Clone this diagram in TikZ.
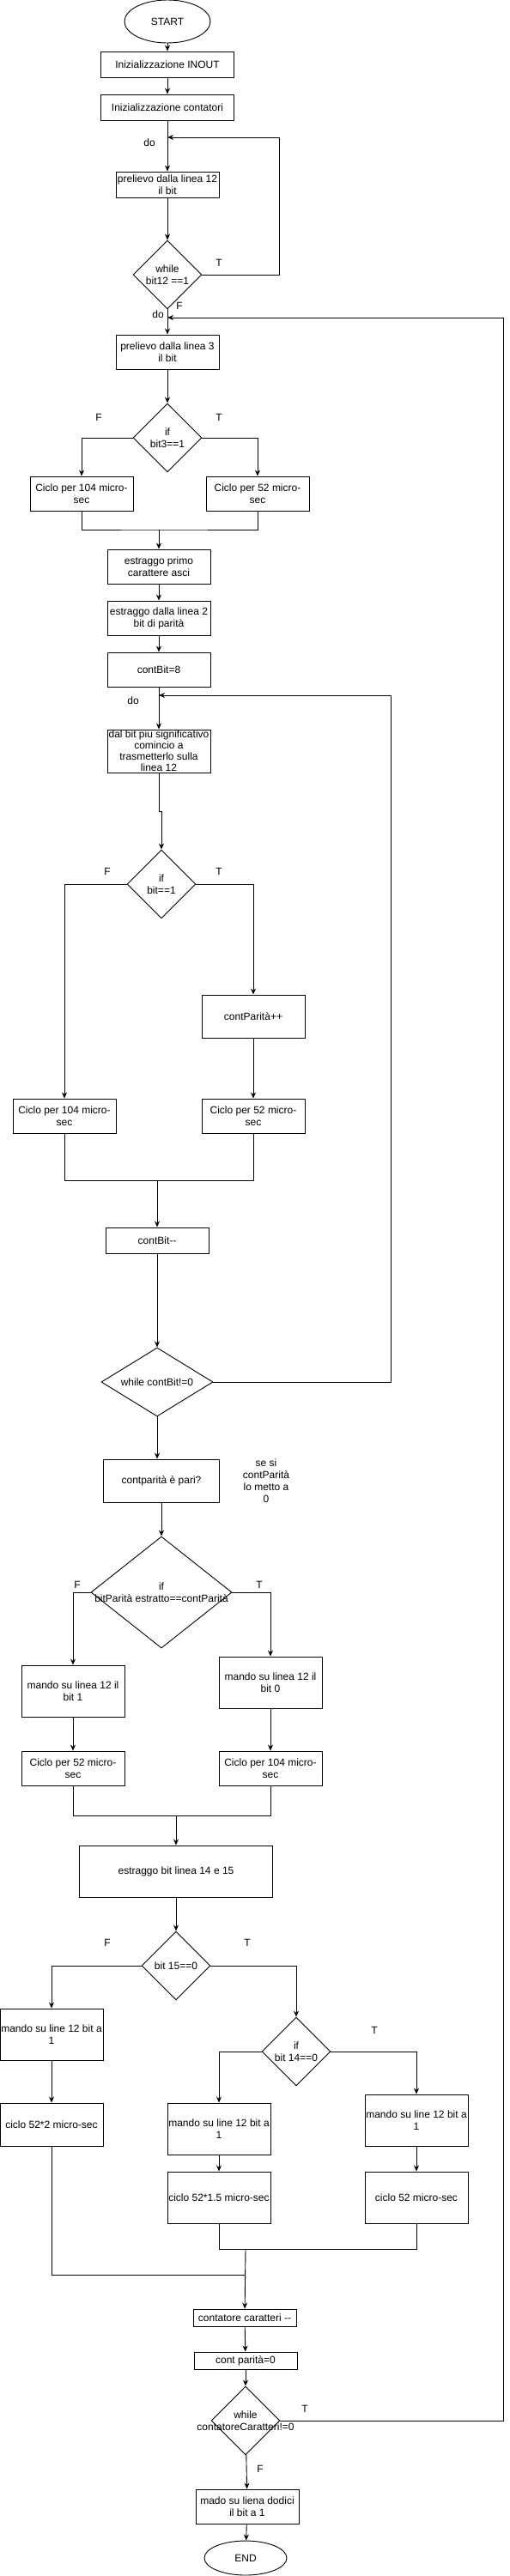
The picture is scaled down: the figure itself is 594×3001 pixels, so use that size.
\documentclass[tikz,border=0pt]{standalone}
\usepackage{fontspec}
\setmainfont{Liberation Sans}
\usetikzlibrary{shapes.geometric, arrows.meta}

\begin{document}
\begin{tikzpicture}[x=1pt, y=-1pt, line width=0.9pt,
    font=\fontsize{12}{14}\selectfont,
    box/.style={draw, rectangle, align=center, inner sep=0pt, minimum width=120pt, minimum height=40pt},
    cond/.style={draw, diamond, inner sep=0pt, minimum width=80pt, minimum height=80pt,
        label={[align=center]center:#1}},
    term/.style={draw, ellipse, inner sep=0pt, minimum width=100pt, minimum height=50pt},
    lab/.style={inner sep=1pt},
    arr/.style={-{Stealth[length=7pt, width=6pt]}}]
    \useasboundingbox (0,0) rectangle (594,3001);

    % first part: wait for the start bit on line 12
    \node[term] (start) at (195,25) {START};
    \node[box, minimum width=155pt, minimum height=30pt] (inout) at (195,75) {Inizializzazione INOUT};
    \node[box, minimum width=155pt, minimum height=30pt] (cont) at (195,125) {Inizializzazione contatori};
    \coordinate (j1) at (195,160);
    \node[box, minimum height=30pt] (p12) at (195,215) {prelievo dalla linea 12\\il bit};
    \node[cond={while\\bit12 ==1}] (w12) at (195,320) {};
    \coordinate (j2) at (195,370);
    \node[box] (p3) at (195,410) {prelievo dalla linea 3\\il bit};
    \node[cond={if\\bit3==1}] (if3) at (195,510) {};
    \node[box] (c104a) at (95,575) {Ciclo per 104 micro-\\sec};
    \node[box] (c52a) at (300,575) {Ciclo per 52 micro-\\sec};
    \coordinate (jm1) at (185,617);
    \node[box] (asci) at (185,660) {estraggo primo\\carattere asci};
    \node[box] (par) at (185,720) {estraggo dalla linea 2\\bit di parità};
    \node[box] (cb8) at (185,780) {contBit=8};
    \coordinate (j3) at (185,810);

    % loop over the 8 bits of the character
    \node[box, minimum height=50pt, font=\fontsize{12}{13}\selectfont] (msb) at (185,875)
        {dal bit piu significativo\\comincio a\\trasmetterlo sulla\\linea 12};
    \node[cond={if\\bit==1}] (ifb) at (188,1030) {};
    \node[box, minimum height=50pt] (cpp) at (295,1184) {contParità++};
    \node[box] (c104b) at (75,1300) {Ciclo per 104 micro-\\sec};
    \node[box] (c52b) at (295,1300) {Ciclo per 52 micro-\\sec};
    \coordinate (jm2) at (183,1375);
    \node[box, minimum height=30pt] (cbm) at (183,1445) {contBit{-}{-}};
    \node[cond={while contBit!=0}, minimum width=130pt] (wcb) at (183,1610) {};

    % parity bit
    \node[box, minimum width=135pt, minimum height=50pt] (pari) at (188,1725) {contparità è pari?};
    \node[align=center] (nota) at (310,1725) {se si\\contParità\\lo metto a\\0};
    \node[cond={if\\bitParità estratto==contParità}, minimum width=164pt, minimum height=130pt] (ifp) at (188,1855) {};
    \node[box, minimum height=60pt] (m1) at (85,1970) {mando su linea 12 il\\bit 1};
    \node[box, minimum height=60pt] (m0) at (315,1960) {mando su linea 12 il\\bit 0};
    \node[box] (c52c) at (85,2060) {Ciclo per 52 micro-\\sec};
    \node[box] (c104c) at (315,2060) {Ciclo per 104 micro-\\sec};
    \coordinate (jm3) at (205,2115);

    % stop bits from lines 14 and 15
    \node[box, minimum width=225pt, minimum height=60pt] (ex) at (205,2180) {estraggo bit linea 14 e 15};
    \node[cond={bit 15==0}] (if15) at (205,2290) {};
    \node[box, minimum height=60pt] (ml) at (60,2370) {mando su line 12 bit a\\1};
    \node[box, minimum height=50pt] (c522) at (60,2475) {ciclo 52*2 micro-sec};
    \node[cond={if\\bit 14==0}] (if14) at (345,2390) {};
    \node[box, minimum height=60pt] (mm) at (255,2480) {mando su line 12 bit a\\1};
    \node[box, minimum height=60pt] (mr) at (485,2470) {mando su line 12 bit a\\1};
    \node[box, minimum height=60pt] (c15) at (255,2560) {ciclo 52*1.5 micro-sec};
    \node[box, minimum height=60pt] (c52d) at (485,2560) {ciclo 52 micro-sec};
    \coordinate (jm4) at (286,2620);
    \coordinate (jm5) at (286,2650);

    % next character
    \node[box, minimum height=20pt] (ccar) at (285,2700) {contatore caratteri {-}{-}};
    \node[box, minimum height=20pt] (cpar0) at (286,2750) {cont parità=0};
    \node[cond={while\\contatoreCaratteri!=0}] (wcc) at (286,2820) {};
    \node[box] (mado) at (288,2920) {mado su liena dodici\\il bit a 1};
    \node[term, minimum width=96pt, minimum height=40pt] (stop) at (286,2980) {END};

    % T / F / do labels
    \node[lab] (do1) at (174,166) {do};
    \node[lab] (t1) at (255,306) {T};
    \node[lab] (f1) at (209,356) {F};
    \node[lab] (do2) at (184,366) {do};
    \node[lab] (f2) at (115,486) {F};
    \node[lab] (t2) at (255,486) {T};
    \node[lab] (do3) at (155,816) {do};
    \node[lab] (f3) at (125,1015) {F};
    \node[lab] (t3) at (255,1015) {T};
    \node[lab] (f4) at (90,1846) {F};
    \node[lab] (t4) at (302,1846) {T};
    \node[lab] (f5) at (125,2263) {F};
    \node[lab] (t5) at (288,2263) {T};
    \node[lab] (t6) at (436,2365) {T};
    \node[lab] (t7) at (355,2806) {T};
    \node[lab] (f7) at (303,2876) {F};

    % connectors
    \draw[arr] (start) -- (inout);
    \draw[arr] (inout) -- (cont);
    \draw[arr] (cont) -- (p12);
    \draw[arr] (p12) -- (w12);
    \draw[arr] (w12.east) -- ++(90,0) |- (j1);
    \draw[arr] (w12) -- (p3);
    \draw[arr] (p3) -- (if3);
    \draw[arr] (if3.west) -| (c104a);
    \draw[arr] (if3.east) -| (c52a);
    \draw (c104a) |- (jm1) -| (c52a);
    \draw[arr] (jm1) -- (asci);
    \draw[arr] (asci) -- (par);
    \draw[arr] (par) -- (cb8);
    \draw[arr] (cb8) -- (msb);
    \draw[arr] (msb.south) -- ++(0,45) -| (ifb.north);
    \draw[arr] (ifb.west) -| (c104b);
    \draw[arr] (ifb.east) -| (cpp);
    \draw[arr] (cpp) -- (c52b);
    \draw (c104b) |- (jm2) -| (c52b);
    \draw[arr] (jm2) -- (cbm);
    \draw[arr] (cbm) -- (wcb);
    \draw[arr] (wcb.east) -- ++(207,0) |- (j3);
    \draw[arr] (wcb.south) -- (wcb.south |- pari.north);
    \draw[arr] (pari) -- (ifp);
    \draw[arr] (ifp.west) -| (m1);
    \draw[arr] (ifp.east) -| (m0);
    \draw[arr] (m1) -- (c52c);
    \draw[arr] (m0) -- (c104c);
    \draw (c52c) |- (jm3) -| (c104c);
    \draw[arr] (jm3) -- (ex);
    \draw[arr] (ex) -- (if15);
    \draw[arr] (if15.west) -| (ml);
    \draw[arr] (if15.east) -| (if14);
    \draw[arr] (ml) -- (c522);
    \draw[arr] (if14.west) -| (mm);
    \draw[arr] (if14.east) -| (mr);
    \draw[arr] (mm) -- (c15);
    \draw[arr] (mr) -- (c52d);
    \draw (c15) |- (jm4) -| (c52d);
    \draw (c522) |- (jm5);
    \draw[arr] (jm4) -- (ccar);
    \draw[arr] (ccar) -- (cpar0);
    \draw[arr] (cpar0) -- (wcc);
    \draw[arr] (wcc.east) -- ++(260,0) |- (j2);
    \draw[arr] (wcc) -- (mado);
    \draw[arr] (mado) -- (stop);
\end{tikzpicture}
\end{document}
